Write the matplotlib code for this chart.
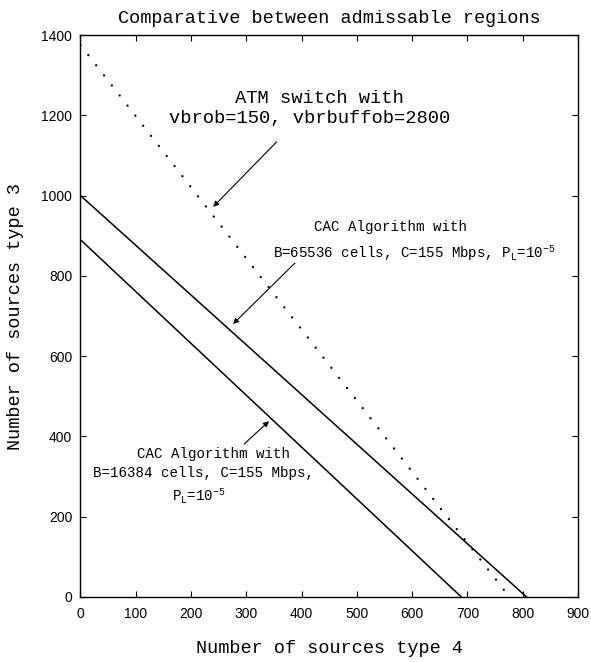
import numpy as np
import matplotlib
matplotlib.use("Agg")
import matplotlib.pyplot as plt

# admissible region boundaries (type 4 sources, type 3 sources)
atm_x = [0, 776]
atm_y = [1375, 0]
cac_65536_x = [0, 807]
cac_65536_y = [1000, 0]
cac_16384_x = [0, 689]
cac_16384_y = [890, 0]

xticks = list(range(0, 901, 100))
yticks = list(range(0, 1401, 200))

mono = "Liberation Mono"
sans = "Liberation Sans"


def plotta():
    fig = plt.figure(figsize=(5.91, 6.62), dpi=100)
    ax = fig.add_axes([0.1362, 0.0982, 0.978 - 0.1362, 0.9471 - 0.0982])

    ax.plot(atm_x, atm_y, color="k", lw=1.7, linestyle=(0, (0.01, 5.4)),
            dash_capstyle="round")
    ax.plot(cac_65536_x, cac_65536_y, color="k", lw=1.1)
    ax.plot(cac_16384_x, cac_16384_y, color="k", lw=1.1)

    ax.set_xlim(0, 900)
    ax.set_ylim(0, 1400)
    ax.set_xticks(xticks)
    ax.set_yticks(yticks)
    ax.tick_params(direction="in", top=True, right=True, length=4.5, width=0.8,
                   labelsize=10)
    ax.tick_params(axis="x", pad=7)
    ax.tick_params(axis="y", pad=6)
    for lab in ax.get_xticklabels() + ax.get_yticklabels():
        lab.set_family(sans)
    for s in ax.spines.values():
        s.set_linewidth(1.0)

    ax.set_title("Comparative between admissable regions", family=mono,
                 fontsize=13.3, pad=9)
    ax.set_xlabel("Number of sources type 4", family=mono, fontsize=13.3,
                  labelpad=14)
    ax.set_ylabel("Number of sources type 3", family=mono, fontsize=13.3,
                  labelpad=12)

    # ATM switch label
    ax.text(433, 1243, "ATM switch with", family=mono, fontsize=13.5,
            ha="center", va="center")
    ax.text(415, 1191, "vbrob=150, vbrbuffob=2800", family=mono, fontsize=13.5,
            ha="center", va="center")
    ax.annotate("", xy=(240, 972), xytext=(355, 1134),
                arrowprops=dict(arrowstyle="-|>", color="k", lw=0.8,
                                mutation_scale=8, shrinkA=0, shrinkB=0))

    # CAC B=65536
    ax.text(560, 922, "CAC Algorithm with", family=mono, fontsize=10.2,
            ha="center", va="center")
    ax.text(603, 857, r"B=65536 cells, C=155 Mbps, P$_\mathregular{L}$=10$^{\mathregular{-5}}$",
            family=mono, fontsize=10.2, ha="center", va="center")
    ax.annotate("", xy=(276, 680), xytext=(388, 832),
                arrowprops=dict(arrowstyle="-|>", color="k", lw=0.8,
                                mutation_scale=8, shrinkA=0, shrinkB=0))

    # CAC B=16384
    ax.text(240, 356, "CAC Algorithm with", family=mono, fontsize=10.2,
            ha="center", va="center")
    ax.text(222, 309, "B=16384 cells, C=155 Mbps,", family=mono, fontsize=10.2,
            ha="center", va="center")
    ax.text(214, 254, r"P$_\mathregular{L}$=10$^{\mathregular{-5}}$", family=mono,
            fontsize=10.2, ha="center", va="center")
    ax.annotate("", xy=(341, 438), xytext=(296, 381),
                arrowprops=dict(arrowstyle="-|>", color="k", lw=0.8,
                                mutation_scale=8, shrinkA=0, shrinkB=0))

    fig.savefig("out.png", dpi=100)


plotta()
